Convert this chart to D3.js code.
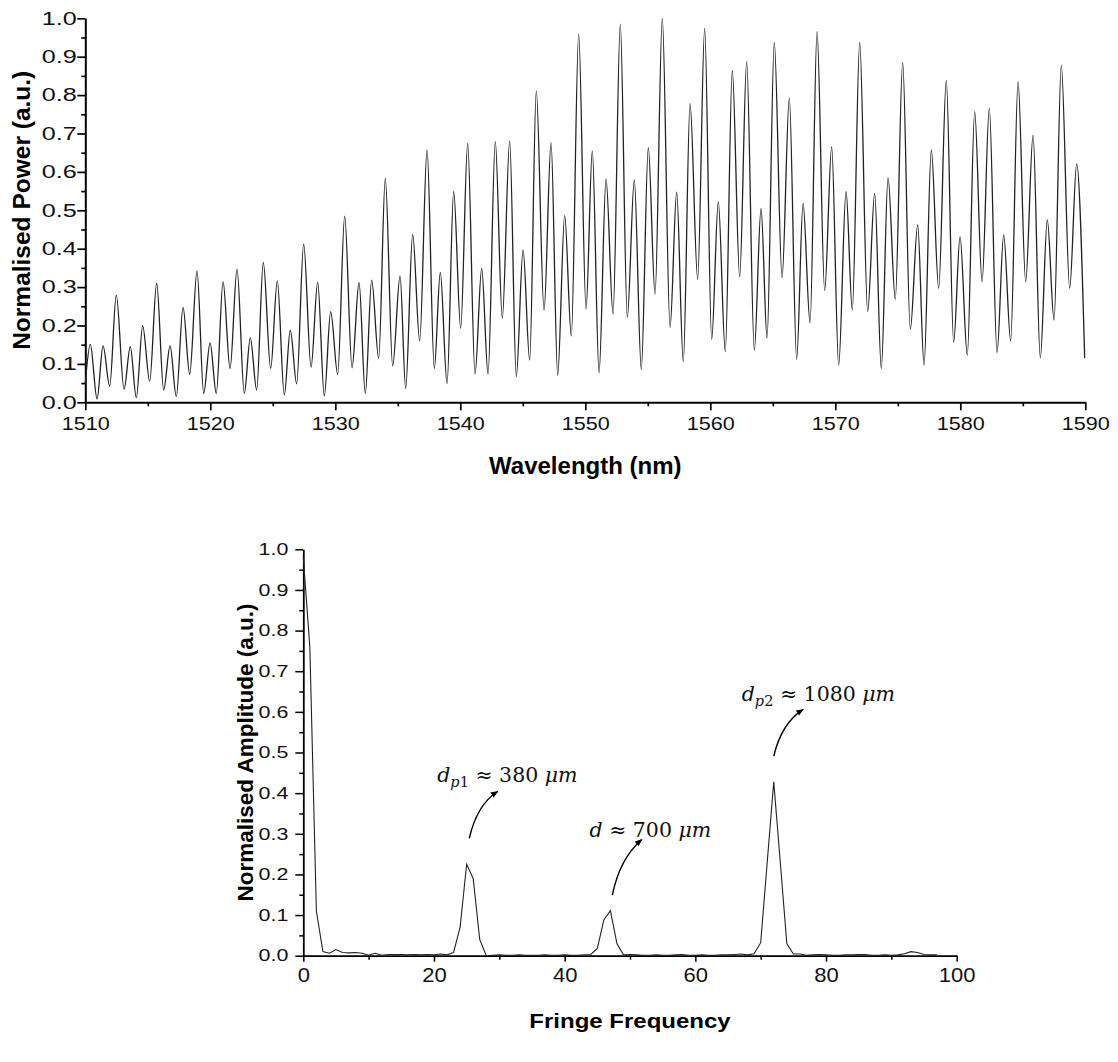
<!DOCTYPE html>
<html>
<head>
<meta charset="utf-8">
<script src="https://cdn.jsdelivr.net/npm/d3@7"></script>
<style>
  body { margin: 0; background: #fff; }
  svg { display: block; }
</style>
</head>
<body>
<svg id="fig" width="1118" height="1062"></svg>
<script>
// ---- Transmission spectrum: successive maxima / minima of the fringe pattern ----
const spectrumWavelength = [
  1510.00, 1510.40, 1510.94, 1511.42, 1511.95, 1512.48, 1513.10, 1513.60, 1514.08, 1514.59,
  1515.15, 1515.71, 1516.27, 1516.78, 1517.28, 1517.82, 1518.35, 1518.94, 1519.47, 1519.98,
  1520.48, 1521.02, 1521.58, 1522.14, 1522.72, 1523.20, 1523.71, 1524.24, 1524.83, 1525.36,
  1525.92, 1526.40, 1526.91, 1527.47, 1528.06, 1528.59, 1529.12, 1529.63, 1530.19, 1530.75,
  1531.34, 1531.90, 1532.40, 1532.91, 1533.47, 1534.00, 1534.59, 1535.18, 1535.63, 1536.19,
  1536.75, 1537.34, 1537.92, 1538.40, 1538.94, 1539.47, 1540.03, 1540.59, 1541.18, 1541.71,
  1542.22, 1542.80, 1543.36, 1543.95, 1544.48, 1545.02, 1545.55, 1546.08, 1546.70, 1547.26,
  1547.79, 1548.35, 1548.88, 1549.47, 1550.06, 1550.56, 1551.10, 1551.66, 1552.22, 1552.80,
  1553.36, 1553.92, 1554.48, 1555.04, 1555.58, 1556.16, 1556.78, 1557.31, 1557.84, 1558.38,
  1558.99, 1559.55, 1560.11, 1560.64, 1561.20, 1561.76, 1562.35, 1562.91, 1563.52, 1564.06,
  1564.54, 1565.12, 1565.74, 1566.32, 1566.91, 1567.42, 1567.98, 1568.54, 1569.15, 1569.71,
  1570.27, 1570.86, 1571.36, 1571.95, 1572.59, 1573.15, 1573.68, 1574.22, 1574.80, 1575.39,
  1576.00, 1576.59, 1577.10, 1577.68, 1578.27, 1578.88, 1579.47, 1579.98, 1580.56, 1581.15,
  1581.74, 1582.32, 1582.94, 1583.47, 1584.03, 1584.62, 1585.23, 1585.82, 1586.40, 1586.96,
  1587.50, 1588.08, 1588.75, 1589.31, 1589.95
];
const spectrumPower = [
  0.050, 0.151, 0.009, 0.147, 0.042, 0.279, 0.034, 0.145, 0.012, 0.199,
  0.055, 0.310, 0.032, 0.147, 0.015, 0.247, 0.073, 0.342, 0.023, 0.155,
  0.023, 0.314, 0.088, 0.347, 0.023, 0.168, 0.032, 0.364, 0.088, 0.316,
  0.019, 0.188, 0.048, 0.412, 0.091, 0.313, 0.017, 0.236, 0.073, 0.485,
  0.090, 0.312, 0.023, 0.318, 0.115, 0.583, 0.095, 0.329, 0.036, 0.437,
  0.160, 0.657, 0.088, 0.338, 0.049, 0.549, 0.193, 0.674, 0.074, 0.349,
  0.073, 0.679, 0.219, 0.680, 0.067, 0.397, 0.110, 0.811, 0.239, 0.676,
  0.071, 0.486, 0.173, 0.959, 0.243, 0.655, 0.077, 0.581, 0.230, 0.985,
  0.221, 0.579, 0.086, 0.663, 0.282, 1.000, 0.195, 0.547, 0.106, 0.778,
  0.320, 0.974, 0.164, 0.522, 0.132, 0.864, 0.327, 0.887, 0.136, 0.505,
  0.167, 0.937, 0.325, 0.792, 0.112, 0.518, 0.207, 0.965, 0.291, 0.666,
  0.097, 0.549, 0.240, 0.937, 0.236, 0.544, 0.088, 0.585, 0.268, 0.885,
  0.190, 0.462, 0.097, 0.657, 0.297, 0.838, 0.156, 0.431, 0.123, 0.757,
  0.314, 0.766, 0.129, 0.436, 0.160, 0.835, 0.314, 0.696, 0.116, 0.475,
  0.214, 0.878, 0.297, 0.621, 0.115
];
const wavelengthTicks = [1510, 1520, 1530, 1540, 1550, 1560, 1570, 1580, 1590];
const wavelengthMinorTicks = [1515, 1525, 1535, 1545, 1555, 1565, 1575, 1585];
const powerTicks = [0, 0.1, 0.2, 0.3, 0.4, 0.5, 0.6, 0.7, 0.8, 0.9, 1.0];

// ---- FFT of the spectrum: amplitude per fringe-frequency bin ----
const fringeAmplitude = [
  0.980, 0.760, 0.110, 0.010, 0.006, 0.015, 0.008, 0.007, 0.008, 0.006,
  0.001, 0.006, 0.001, 0.003, 0.003, 0.003, 0.002, 0.003, 0.002, 0.003,
  0.002, 0.004, 0.002, 0.008, 0.070, 0.225, 0.190, 0.040, 0.000, 0.001,
  0.002, 0.001, 0.001, 0.002, 0.001, 0.001, 0.001, 0.002, 0.001, 0.001,
  0.002, 0.001, 0.001, 0.002, 0.003, 0.018, 0.088, 0.111, 0.030, 0.002,
  0.003, 0.002, 0.001, 0.001, 0.002, 0.001, 0.001, 0.002, 0.003, 0.001,
  0.001, 0.002, 0.001, 0.001, 0.002, 0.002, 0.003, 0.004, 0.002, 0.005,
  0.032, 0.230, 0.428, 0.230, 0.030, 0.004, 0.004, 0.001, 0.002, 0.003,
  0.002, 0.001, 0.001, 0.002, 0.002, 0.003, 0.003, 0.001, 0.001, 0.002,
  0.001, 0.002, 0.005, 0.010, 0.008, 0.003, 0.002, 0.002
];
const fringeFrequency = d3.range(fringeAmplitude.length); // integer FFT bins
const frequencyTicks = [0, 20, 40, 60, 80, 100];
const frequencyMinorTicks = [10, 30, 50, 70, 90];
const amplitudeTicks = [0, 0.1, 0.2, 0.3, 0.4, 0.5, 0.6, 0.7, 0.8, 0.9, 1.0];

// Peak annotations (positions in data units: label anchor, arrow start / bend / tip)
const peakLabels = [
  { name: "d", sub: "p1", value: "380", at: [20.5, 0.428], from: [25.4, 0.289], bend: [26.6, 0.372], to: [29.75, 0.404] },
  { name: "d", sub: "",   value: "700", at: [43.8, 0.291], from: [47.3, 0.149], bend: [48.4, 0.238], to: [51.8, 0.286] },
  { name: "d", sub: "p2", value: "1080", at: [67.1, 0.627], from: [72.0, 0.491], bend: [73.2, 0.572], to: [76.5, 0.606] }
];

const svg = d3.select("#fig");
const SANS = "'Liberation Sans', Arial, sans-serif";

svg.append("defs").append("marker")
  .attr("id", "head").attr("viewBox", "0 0 10 10")
  .attr("refX", 9).attr("refY", 5)
  .attr("markerWidth", 7.5).attr("markerHeight", 7.5)
  .attr("markerUnits", "userSpaceOnUse")
  .attr("orient", "auto")
  .append("path").attr("d", "M0,1 L10,5 L0,9 Z").attr("fill", "#000");

function styleAxis(g, lw) {
  g.attr("font-family", SANS);
  g.select(".domain").attr("stroke", "#000").attr("stroke-width", lw);
  g.selectAll(".tick line").attr("stroke", "#000").attr("stroke-width", lw * 0.85);
}

// ================= Upper panel: spectrum =================
const x1 = d3.scaleLinear().domain([1510, 1590]).range([85.3, 1085.3]);
const y1 = d3.scaleLinear().domain([0, 1]).range([402.3, 18.3]);
const upper = svg.append("g");

// minor ticks first, then major axes
upper.append("g").attr("transform", `translate(0,${y1(0)})`)
  .call(d3.axisBottom(x1).tickValues(wavelengthMinorTicks).tickSize(4).tickFormat(""))
  .call(g => { g.select(".domain").remove(); g.selectAll("line").attr("stroke", "#000").attr("stroke-width", 1.7); });
upper.append("g").attr("transform", `translate(${x1(1510)},0)`)
  .call(d3.axisLeft(y1).tickValues(d3.range(0.05, 1, 0.1)).tickSize(4).tickFormat(""))
  .call(g => { g.select(".domain").remove(); g.selectAll("line").attr("stroke", "#000").attr("stroke-width", 1.7); });

const gx1 = upper.append("g").attr("transform", `translate(0,${y1(0)})`)
  .call(d3.axisBottom(x1).tickValues(wavelengthTicks).tickSize(8).tickSizeOuter(0).tickFormat(d3.format("d")))
  .call(g => styleAxis(g, 2));
gx1.selectAll("text").attr("font-size", 18).attr("fill", "#111").attr("y", 14.5).attr("dy", "0.71em")
  .attr("text-anchor", "middle").attr("transform", "scale(1.2,1)");
const gy1 = upper.append("g").attr("transform", `translate(${x1(1510)},0)`)
  .call(d3.axisLeft(y1).tickValues(powerTicks).tickSize(8).tickSizeOuter(0).tickFormat(d3.format(".1f")))
  .call(g => styleAxis(g, 2));
gy1.selectAll("text").attr("font-size", 18).attr("fill", "#111")
  .attr("transform", "scale(1.4,1)").attr("x", -8.5 / 1.4);

upper.append("path")
  .datum(d3.zip(spectrumWavelength, spectrumPower))
  .attr("fill", "none").attr("stroke", "#222").attr("stroke-width", 1.3)
  .attr("d", d3.line().x(d => x1(d[0])).y(d => y1(d[1])).curve(d3.curveMonotoneX));

upper.append("text")
  .attr("x", (x1(1510) + x1(1590)) / 2).attr("y", 474)
  .attr("text-anchor", "middle").attr("font-family", SANS)
  .attr("font-weight", "bold").attr("font-size", 24)
  .text("Wavelength (nm)");
upper.append("text")
  .attr("transform", `translate(30,${(y1(0) + y1(1)) / 2}) rotate(-90)`)
  .attr("text-anchor", "middle").attr("font-family", SANS)
  .attr("font-weight", "bold").attr("font-size", 24.5)
  .text("Normalised Power (a.u.)");

// ================= Lower panel: fringe-frequency spectrum =================
const x2 = d3.scaleLinear().domain([0, 100]).range([303.3, 956.7]);
const y2 = d3.scaleLinear().domain([0, 1]).range([955.7, 549.3]);
const lower = svg.append("g");

lower.append("g").attr("transform", `translate(0,${y2(0)})`)
  .call(d3.axisBottom(x2).tickValues(frequencyMinorTicks).tickSize(4).tickFormat(""))
  .call(g => { g.select(".domain").remove(); g.selectAll("line").attr("stroke", "#000").attr("stroke-width", 1.5); });
lower.append("g").attr("transform", `translate(${x2(0)},0)`)
  .call(d3.axisLeft(y2).tickValues(d3.range(0.05, 1, 0.1)).tickSize(4).tickFormat(""))
  .call(g => { g.select(".domain").remove(); g.selectAll("line").attr("stroke", "#000").attr("stroke-width", 1.5); });

const gx2 = lower.append("g").attr("transform", `translate(0,${y2(0)})`)
  .call(d3.axisBottom(x2).tickValues(frequencyTicks).tickSize(6).tickSizeOuter(0).tickFormat(d3.format("d")))
  .call(g => styleAxis(g, 1.8));
gx2.selectAll("text").attr("font-size", 20).attr("fill", "#111").attr("y", 12.5).attr("dy", "0.71em")
  .attr("transform", "scale(1.1,1)");
const gy2 = lower.append("g").attr("transform", `translate(${x2(0)},0)`)
  .call(d3.axisLeft(y2).tickValues(amplitudeTicks).tickSize(8).tickSizeOuter(0).tickFormat(d3.format(".1f")))
  .call(g => styleAxis(g, 1.8));
gy2.selectAll("text").attr("font-size", 16.5).attr("fill", "#111")
  .attr("transform", "scale(1.3,1)").attr("x", -15 / 1.3);

lower.append("path")
  .datum(d3.zip(fringeFrequency, fringeAmplitude))
  .attr("fill", "none").attr("stroke", "#222").attr("stroke-width", 1.1)
  .attr("d", d3.line().x(d => x2(d[0])).y(d => y2(d[1])));

lower.append("text")
  .attr("transform", `translate(${(x2(0) + x2(100)) / 2},1028) scale(1.2,1)`)
  .attr("text-anchor", "middle").attr("font-family", SANS)
  .attr("font-weight", "bold").attr("font-size", 20)
  .text("Fringe Frequency");
lower.append("text")
  .attr("transform", `translate(253,${(y2(0.0) + y2(1.0)) / 2}) rotate(-90)`)
  .attr("text-anchor", "middle").attr("font-family", SANS)
  .attr("font-weight", "bold").attr("font-size", 22.5)
  .text("Normalised Amplitude (a.u.)");

// peak labels with curved arrows
const SERIF = "'DejaVu Serif', 'Liberation Serif', serif";
const NB = "\u00a0";
peakLabels.forEach(p => {
  const t = lower.append("text")
    .attr("x", x2(p.at[0])).attr("y", y2(p.at[1]))
    .attr("font-family", SERIF).attr("font-size", 20.5).attr("fill", "#111");
  t.append("tspan").attr("font-style", "italic").text(p.name);
  if (p.sub) {
    t.append("tspan").attr("font-style", "italic").attr("font-size", 14.5).attr("dy", 5).text(p.sub.slice(0, 1));
    t.append("tspan").attr("font-size", 14.5).text(p.sub.slice(1));
    t.append("tspan").attr("dy", -5).text(NB + "\u2248" + NB + p.value + NB);
  } else {
    t.append("tspan").text(NB + "\u2248" + NB + p.value + NB);
  }
  t.append("tspan").attr("font-style", "italic").text("\u03bcm");

  const path = d3.path();
  path.moveTo(x2(p.from[0]), y2(p.from[1]));
  path.quadraticCurveTo(x2(p.bend[0]), y2(p.bend[1]), x2(p.to[0]), y2(p.to[1]));
  lower.append("path").attr("d", path.toString())
    .attr("fill", "none").attr("stroke", "#000").attr("stroke-width", 1.4)
    .attr("marker-end", "url(#head)");
});
</script>
</body>
</html>
